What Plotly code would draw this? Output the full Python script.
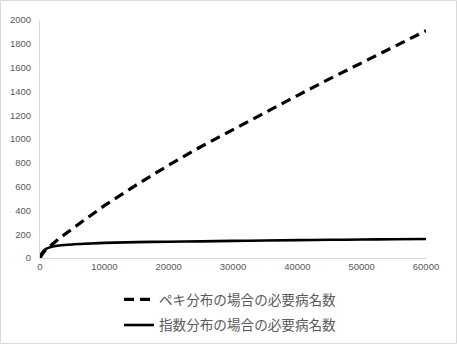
import plotly.graph_objects as go

x_vals = [0, 200, 500, 1000, 2000, 3000, 5000, 7500, 10000, 15000, 20000,
          25000, 30000, 35000, 40000, 45000, 50000, 55000, 60000]
power_vals = [0, 20, 45, 75, 120, 165, 245, 345, 440, 615, 780,
              935, 1080, 1225, 1365, 1505, 1640, 1775, 1910]
exp_vals = [0, 35, 58, 78, 96, 105, 114, 121, 127, 133, 137,
            140, 144, 147, 150, 153, 155, 158, 160]

name_power = "ペキ分布の場合の必要病名数"
name_exp = "指数分布の場合の必要病名数"

x_ticks = [0, 10000, 20000, 30000, 40000, 50000, 60000]
y_ticks = [0, 200, 400, 600, 800, 1000, 1200, 1400, 1600, 1800, 2000]

W, H = 457, 344
ML, MR, MT, MB = 40, 31, 20, 86

fig = go.Figure()
fig.add_trace(go.Scatter(x=x_vals, y=power_vals, mode="lines", name=name_power,
                         legendgroup="a",
                         line=dict(color="black", width=3.2, dash="10px,6px")))
fig.add_trace(go.Scatter(x=x_vals, y=exp_vals, mode="lines", name=name_exp,
                         legendgroup="b",
                         line=dict(color="black", width=2.6, shape="spline")))

pw = W - ML - MR
ph = H - MT - MB
def px_x(p):
    return (p - ML) / pw
def px_y(p):
    return (H - MB - p) / ph

fig.add_shape(type="rect", xref="paper", yref="paper",
              x0=px_x(0.5), x1=px_x(W - 0.5), y0=px_y(H - 0.5), y1=px_y(0.5),
              line=dict(color="#d9d9d9", width=1), layer="below")

fig.update_layout(
    width=W, height=H,
    margin=dict(l=ML, r=MR, t=MT, b=MB, autoexpand=False),
    paper_bgcolor="white", plot_bgcolor="white",
    showlegend=True,
    hovermode=False,
    legend=dict(orientation="v", xref="container", yref="container",
                x=119 / W, xanchor="left",
                y=1 - 284 / H, yanchor="top",
                font=dict(family="Noto Sans CJK JP", size=13.6, color="#595959"),
                traceorder="grouped", tracegroupgap=5,
                bgcolor="rgba(0,0,0,0)"),
    xaxis=dict(range=[0, 60000], tickvals=x_ticks,
               ticktext=[str(v) for v in x_ticks],
               showgrid=False, zeroline=False, showline=True,
               linecolor="#d9d9d9", linewidth=1, ticks="",
               tickfont=dict(family="Liberation Sans", size=9.5, color="#595959")),
    yaxis=dict(range=[0, 2000], tickvals=y_ticks,
               ticktext=[str(v) for v in y_ticks],
               showgrid=False, zeroline=False, showline=True,
               linecolor="#d9d9d9", linewidth=1, ticks="",
               ticklabelstandoff=6,
               tickfont=dict(family="Liberation Sans", size=9.5, color="#595959")),
)

fig.write_html("out.html")
